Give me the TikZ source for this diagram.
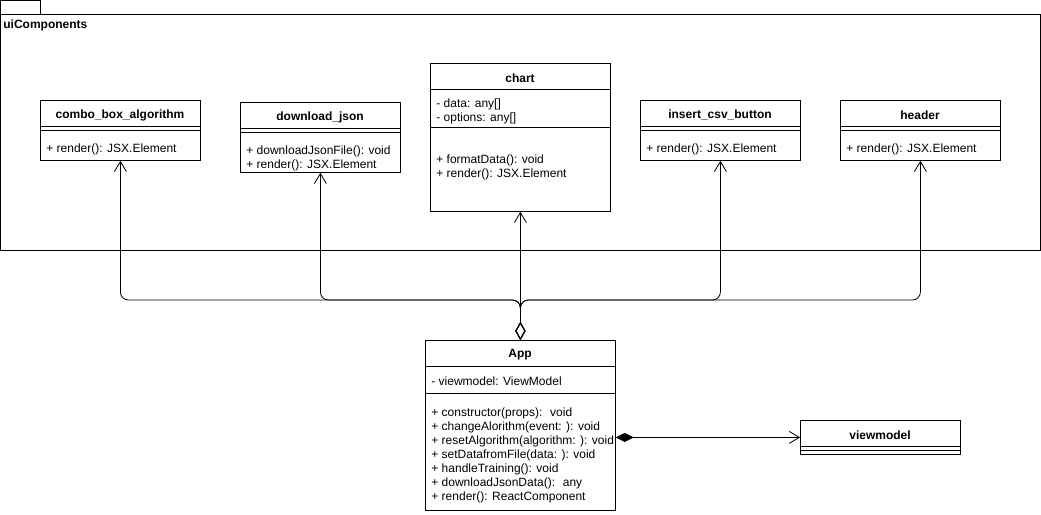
\documentclass[tikz,border=0pt]{standalone}
\usepackage{fontspec}
\setmainfont{Liberation Sans}
\usetikzlibrary{arrows.meta}
\tikzset{
  classbox/.style={draw, anchor=north west, inner sep=0pt},
  title/.style={font=\bfseries\fontsize{12}{14}\selectfont, inner sep=0pt, yshift=-2pt},
  member/.style={anchor=west, align=left, inner sep=0pt, yshift=-2pt,
    font=\fontsize{12}{14}\selectfont},
  aggr/.style={{Diamond[open,length=18pt,width=10pt]}-{Straight Barb[length=10pt,width=12pt]},
    rounded corners=8pt},
  compo/.style={{Diamond[length=18pt,width=9pt]}-{Straight Barb[length=10pt,width=12pt]}},
}

\begin{document}
\begin{tikzpicture}[x=1pt,y=-1pt,line width=0.8pt]
  \useasboundingbox (0,0) rectangle (1041,514);

  %% package frame
  \draw (0,0) rectangle (40,14);
  \draw (0,14) rectangle (1040,250);
  \node[title, anchor=west] (pkg) at (3,23) {uiComponents};

  %% combo_box_algorithm
  \node[classbox, minimum width=160pt, minimum height=60pt] (combo) at (40,100) {};
  \node[title] (combo title) at (120,113) {combo\_box\_algorithm};
  \draw (40,126) -- (200,126) (40,130) -- (200,130);
  \node[member] (combo ops) at (46,147) {+ render(): JSX.Element};

  %% download_json
  \node[classbox, minimum width=160pt, minimum height=70pt] (download) at (240,102) {};
  \node[title] (download title) at (320,115) {download\_json};
  \draw (240,128) -- (400,128) (240,132) -- (400,132);
  \node[member] (download ops) at (246,156)
    {+ downloadJsonFile(): void\\+ render(): JSX.Element};

  %% chart
  \node[classbox, minimum width=180pt, minimum height=148pt] (chart) at (430,63) {};
  \node[title] (chart title) at (520,76) {chart};
  \draw (430,89) -- (610,89);
  \node[member] (chart attrs) at (436,109) {- data: any[]\\- options: any[]};
  \draw (430,127) -- (610,127);
  \node[member] (chart ops) at (436,165)
    {+ formatData(): void\\+ render(): JSX.Element};

  %% insert_csv_button
  \node[classbox, minimum width=160pt, minimum height=60pt] (insert) at (640,100) {};
  \node[title] (insert title) at (720,113) {insert\_csv\_button};
  \draw (640,126) -- (800,126) (640,130) -- (800,130);
  \node[member] (insert ops) at (646,147) {+ render(): JSX.Element};

  %% header
  \node[classbox, minimum width=160pt, minimum height=60pt] (header) at (840,100) {};
  \node[title] (header title) at (920,113) {header};
  \draw (840,126) -- (1000,126) (840,130) -- (1000,130);
  \node[member] (header ops) at (846,147) {+ render(): JSX.Element};

  %% App
  \node[classbox, minimum width=190pt, minimum height=170pt] (app) at (425,340) {};
  \node[title] (app title) at (520,353) {App};
  \draw (425,366) -- (615,366);
  \node[member] (app attrs) at (431,379) {- viewmodel: ViewModel};
  \draw (425,393) -- (615,393);
  \node[member] (app ops) at (431,453)
    {+ constructor(props): \ void\\
     + changeAlorithm(event: ): void\\
     + resetAlgorithm(algorithm: ): void\\
     + setDatafromFile(data: ): void\\
     + handleTraining(): void\\
     + downloadJsonData(): \ any\\
     + render(): ReactComponent};

  %% viewmodel
  \node[classbox, minimum width=160pt, minimum height=34pt] (viewmodel) at (800,420) {};
  \node[title] (viewmodel title) at (880,433) {viewmodel};
  \draw (800,446) -- (960,446) (800,450) -- (960,450);

  %% connectors
  \coordinate (bus) at (520,300);
  \foreach \c in {combo,download,insert,header}
    \draw[aggr] (app.north) -- (app.north |- bus) -| (\c.south);
  \draw[aggr] (app.north) -- (chart.south);

  \draw[compo] (app.east |- viewmodel.west) -- (viewmodel.west);

\end{tikzpicture}
\end{document}
